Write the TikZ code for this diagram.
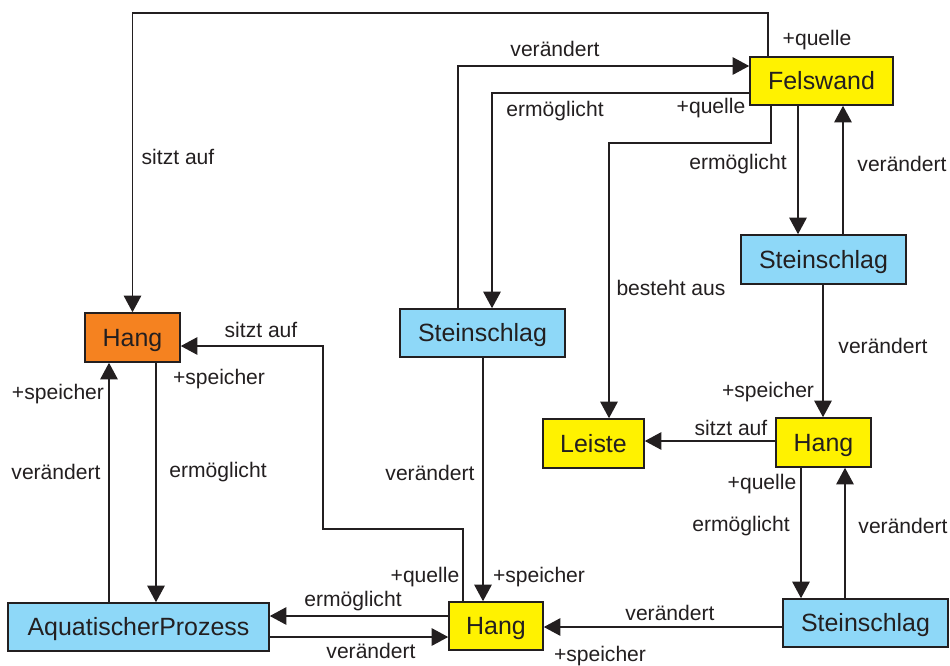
\documentclass[tikz,border=0pt]{standalone}
\usepackage{fontspec}
\setmainfont{Liberation Sans}
\usetikzlibrary{arrows.meta}
\definecolor{ink}{HTML}{231F20}
\definecolor{fyellow}{HTML}{FFF200}
\definecolor{forange}{HTML}{F58220}
\definecolor{fblue}{HTML}{8ED8F8}
\begin{document}
\begin{tikzpicture}[x=0.02cm, y=-0.02cm,
  box/.style={draw=ink, line width=0.9pt, inner sep=0pt, text=ink,
    text height=10.2pt, text depth=0pt,
    font=\fontsize{14.2}{16}\selectfont},
  yellowbox/.style={box, fill=fyellow},
  orangebox/.style={box, fill=forange},
  bluebox/.style={box, fill=fblue},
  rel/.style={draw=ink, line width=0.9pt, -{Triangle[length=9.5pt, width=10pt]}},
  lbl/.style={text=ink, inner sep=0pt, font=\fontsize{12}{14}\selectfont}]
\useasboundingbox (0,0) rectangle (950,666);

% classes
\node[orangebox, minimum width=95*0.02cm, minimum height=49*0.02cm] (hangO) at (132.5,337.5) {Hang};
\node[yellowbox, minimum width=143*0.02cm, minimum height=48*0.02cm] (fels) at (821.5,81) {Felswand};
\node[bluebox, minimum width=165*0.02cm, minimum height=48*0.02cm] (steinM) at (482.5,333) {Steinschlag};
\node[bluebox, minimum width=165*0.02cm, minimum height=49*0.02cm] (steinR) at (823.5,259.5) {Steinschlag};
\node[yellowbox, minimum width=101*0.02cm, minimum height=49*0.02cm] (leiste) at (593.5,443.5) {Leiste};
\node[yellowbox, minimum width=95*0.02cm, minimum height=49*0.02cm] (hangR) at (823.5,442.5) {Hang};
\node[bluebox, minimum width=165*0.02cm, minimum height=48*0.02cm] (steinBR) at (865.5,623) {Steinschlag};
\node[yellowbox, minimum width=94*0.02cm, minimum height=48*0.02cm] (hangB) at (496,626) {Hang};
\node[bluebox, minimum width=261*0.02cm, minimum height=48*0.02cm] (aqua) at (138.5,627) {AquatischerProzess};

% relations
\draw[rel] (fels.north -| 768,0) -- (768,13) -| (hangO.north);
\draw[rel] (steinM.north -| 458,0) |- (fels.west |- 0,66);
\draw[rel] (fels.west |- 0,93) -| (steinM.north -| 492,0);
\draw[rel] (fels.south -| 771,0) -- (771,143) -- (609,143) -- (leiste.north -| 609,0);
\draw[rel] (fels.south -| 798,0) -- (steinR.north -| 798,0);
\draw[rel] (steinR.north -| 843,0) -- (fels.south -| 843,0);
\draw[rel] (steinR.south -| 823,0) -- (hangR.north -| 823,0);
\draw[rel] (hangR.west |- 0,441) -- (leiste.east |- 0,441);
\draw[rel] (hangR.south -| 801,0) -- (steinBR.north -| 801,0);
\draw[rel] (steinBR.north -| 845,0) -- (hangR.south -| 845,0);
\draw[rel] (steinBR.west |- 0,627) -- (hangB.east |- 0,627);
\draw[rel] (steinM.south -| 483,0) -- (hangB.north -| 483,0);
\draw[rel] (hangB.north -| 463,0) -- (463,529) -- (323,529) -- (323,346) -- (hangO.east |- 0,346);
\draw[rel] (hangB.west |- 0,616) -- (aqua.east |- 0,616);
\draw[rel] (aqua.east |- 0,637) -- (hangB.west |- 0,637);
\draw[rel] (aqua.north -| 109,0) -- (hangO.south -| 109,0);
\draw[rel] (hangO.south -| 156,0) -- (aqua.north -| 156,0);

% relation labels
\node[lbl] (l1) at (178,157) {sitzt auf};
\node[lbl] (l2) at (555,49) {verändert};
\node[lbl] (l3) at (817,40) {+quelle};
\node[lbl] (l4) at (555,111) {ermöglicht};
\node[lbl] (l5) at (711,108) {+quelle};
\node[lbl] (l6) at (738,164) {ermöglicht};
\node[lbl] (l7) at (902,164) {verändert};
\node[lbl] (l8) at (671,288) {besteht aus};
\node[lbl] (l9) at (883,346) {verändert};
\node[lbl] (l10) at (768,392) {+speicher};
\node[lbl] (l11) at (731,428) {sitzt auf};
\node[lbl] (l12) at (762,484) {+quelle};
\node[lbl] (l13) at (741,526) {ermöglicht};
\node[lbl] (l14) at (903,526) {verändert};
\node[lbl] (l15) at (670,613) {verändert};
\node[lbl] (l16) at (600,656) {+speicher};
\node[lbl] (l17) at (539,577) {+speicher};
\node[lbl] (l18) at (430,473) {verändert};
\node[lbl] (l19) at (261,330) {sitzt auf};
\node[lbl] (l20) at (425,577) {+quelle};
\node[lbl] (l21) at (353,601) {ermöglicht};
\node[lbl] (l22) at (371,651) {verändert};
\node[lbl] (l23) at (58,394) {+speicher};
\node[lbl] (l24) at (56,472) {verändert};
\node[lbl] (l25) at (219,379) {+speicher};
\node[lbl] (l26) at (218,472) {ermöglicht};
\end{tikzpicture}
\end{document}
